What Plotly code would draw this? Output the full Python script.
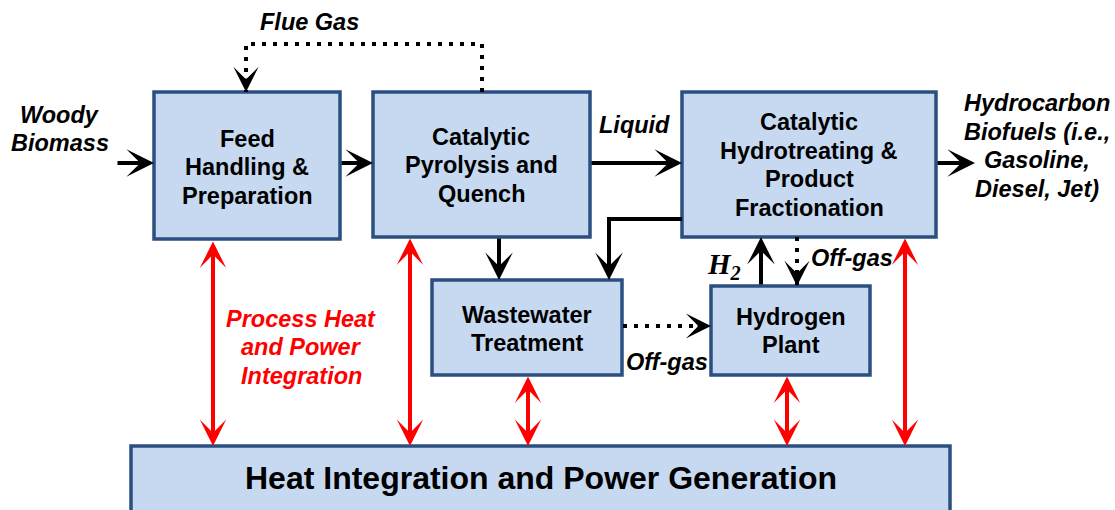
import plotly.graph_objects as go

W, H = 1115, 510
FONT = "Arial, 'Liberation Sans', sans-serif"
SERIF = "'Times New Roman', 'Liberation Serif', serif"
FILL = "#C6D9F0"
EDGE = "#2B4F81"
RED = "#FF0000"
LINE_GAP = 28.5

# ---- process blocks ----
box_labels = [
    "Feed<br>Handling &<br>Preparation",
    "Catalytic<br>Pyrolysis and<br>Quench",
    "Catalytic<br>Hydrotreating &<br>Product<br>Fractionation",
    "Wastewater<br>Treatment",
    "Hydrogen<br>Plant",
    "Heat Integration and Power Generation",
]
box_left = [154, 373, 682, 432, 711, 131]
box_right = [340, 590, 936, 622, 870, 950]
box_top = [92, 92, 92, 280, 286, 446]
box_bottom = [239, 237, 237, 375, 375, 530]
label_x = [247, 481, 809, 527, 791, 541]
label_y = [167, 165, 165, 329, 331, 478]
label_size = [23.5, 23.5, 23.5, 23.5, 23.5, 32]

# ---- stream labels ----
stream_text = [
    "Flue Gas", "Woody<br>Biomass", "Liquid",
    "Hydrocarbon<br>Biofuels (i.e.,<br>Gasoline,<br>Diesel, Jet)",
    "Off-gas", "Off-gas",
]
stream_x = [309, 60, 634, 1037, 852, 667]
stream_y = [22, 129, 125, 146, 258, 362]

# ---- solid black arrows (tail -> head) ----
solid_tail = [(116, 163), (340, 163), (590, 163), (936, 163), (499, 237), (761, 286), (609, 219)]
solid_head = [(154, 163), (373, 163), (682, 163), (975, 163), (499, 280), (761, 237), (609, 280)]

# ---- dotted streams (paths) with arrow at end ----
dotted_paths = [
    [(482, 92), (482, 44), (246, 44), (246, 92)],
    [(623, 326), (711, 326)],
    [(797, 237), (797, 286)],
]

# ---- red two-way heat/power links ----
red_x = [213, 410, 528, 787, 905]
red_top = [240, 237, 375, 375, 237]
red_bottom = [446, 446, 446, 446, 446]

shapes = []
annotations = []


def text_block(txt, x, y, size, color="black", italic=False, family=FONT):
    lines = txt.split("<br>")
    n = len(lines)
    out = []
    for i, ln in enumerate(lines):
        yy = y + (i - (n - 1) / 2) * LINE_GAP
        t = "<b><i>" + ln + "</i></b>" if italic else "<b>" + ln + "</b>"
        out.append(dict(x=x, y=yy, xref="x", yref="y", text=t, showarrow=False,
                        font=dict(family=family, size=size, color=color),
                        align="center", xanchor="center", yanchor="middle"))
    return out


for x0, x1, y0, y1 in zip(box_left, box_right, box_top, box_bottom):
    shapes.append(dict(type="rect", x0=x0, x1=x1, y0=y0, y1=y1, xref="x", yref="y",
                       fillcolor=FILL, line=dict(color=EDGE, width=3.5), layer="below"))

for txt, x, y, s in zip(box_labels, label_x, label_y, label_size):
    annotations += text_block(txt, x, y, s)

for txt, x, y in zip(stream_text, stream_x, stream_y):
    annotations += text_block(txt, x, y, 23.5, italic=True)

annotations += text_block("Process Heat<br>and Power<br>Integration", 301, 347, 23.5,
                          color=RED, italic=True)

annotations.append(dict(x=724, y=266, xref="x", yref="y",
                        text="<b><i>H<sub>2</sub></i></b>",
                        showarrow=False, font=dict(family=SERIF, size=29, color="black")))

# elbow segment from hydrotreating to wastewater
shapes.append(dict(type="line", x0=682, y0=219, x1=607, y1=219, xref="x", yref="y",
                   line=dict(color="black", width=4)))


def arrow(tail, head, color="black", width=4, size=1.15, both=False):
    return dict(x=head[0], y=head[1], ax=tail[0], ay=tail[1], xref="x", yref="y",
                axref="x", ayref="y", text="", showarrow=True, arrowhead=3,
                startarrowhead=3, arrowside="end+start" if both else "end",
                arrowsize=size, startarrowsize=size, arrowwidth=width,
                arrowcolor=color, standoff=0, startstandoff=0)


for t, h in zip(solid_tail, solid_head):
    annotations.append(arrow(t, h))

for pts in dotted_paths:
    path = "M" + " L".join(f"{px},{py}" for px, py in pts)
    shapes.append(dict(type="path", path=path, xref="x", yref="y",
                       line=dict(color="black", width=4, dash="4px,7px")))
    (tx, ty), (hx, hy) = pts[-2], pts[-1]
    dx = (hx - tx)
    dy = (hy - ty)
    n = max(abs(dx), abs(dy))
    annotations.append(arrow((hx - dx / n * 14, hy - dy / n * 14), (hx, hy), size=1.05))

for x, y0, y1 in zip(red_x, red_top, red_bottom):
    annotations.append(arrow((x, y0), (x, y1), color=RED, width=4, size=1.1, both=True))

fig = go.Figure()
fig.add_trace(go.Scatter(x=[0, W], y=[0, H], mode="markers", marker=dict(opacity=0),
                         hoverinfo="skip", showlegend=False))
fig.update_layout(
    width=W, height=H, margin=dict(l=0, r=0, t=0, b=0),
    paper_bgcolor="white", plot_bgcolor="white",
    xaxis=dict(range=[0, W], visible=False, fixedrange=True),
    yaxis=dict(range=[H, 0], visible=False, fixedrange=True),
    shapes=shapes, annotations=annotations, showlegend=False,
)
fig.write_html("out.html", config={"displayModeBar": False},
               post_script="document.body.style.margin='0';document.body.style.overflow='hidden';")
